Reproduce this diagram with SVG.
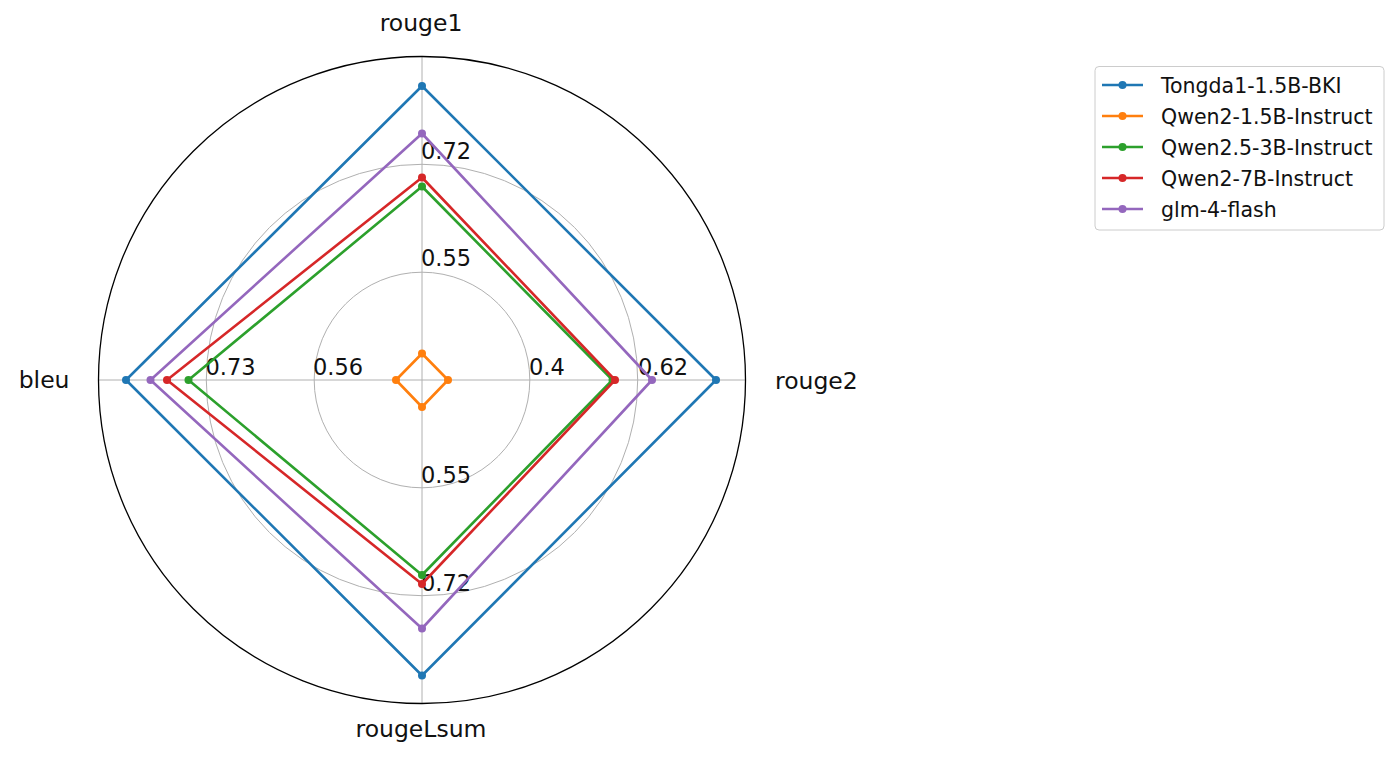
<svg xmlns="http://www.w3.org/2000/svg" width="1397" height="761" viewBox="0 0 1397 761">
<style>
text{font-family:"DejaVu Sans","Liberation Sans",sans-serif;fill:#111111}
.grid{fill:none;stroke:#b0b0b0;stroke-width:1}
.axl{font-size:23.5px}
.tick{font-size:22.5px}
.leg{font-size:20.5px}
.s{fill:none;stroke-width:2.6;stroke-linejoin:round}
</style>
<rect width="1397" height="761" fill="#ffffff"/>
<g id="grid">
<circle class="grid" cx="422" cy="380" r="107.8"/>
<circle class="grid" cx="422" cy="380" r="215.7"/>
<line class="grid" x1="422" y1="380" x2="422" y2="56.5"/>
<line class="grid" x1="422" y1="380" x2="745.5" y2="380"/>
<line class="grid" x1="422" y1="380" x2="422" y2="703.5"/>
<line class="grid" x1="422" y1="380" x2="98.5" y2="380"/>
<circle cx="422" cy="380" r="323.5" fill="none" stroke="#000000" stroke-width="1.3"/>
</g>
<g id="axis-labels">
<text class="axl" x="421" y="31" text-anchor="middle">rouge1</text>
<text class="axl" x="775" y="389">rouge2</text>
<text class="axl" x="421" y="737" text-anchor="middle">rougeLsum</text>
<text class="axl" x="69.5" y="388" text-anchor="end">bleu</text>
</g>
<g id="tick-labels">
<text class="tick" x="421" y="266">0.55</text>
<text class="tick" x="421" y="158.5">0.72</text>
<text class="tick" x="529" y="374.5">0.4</text>
<text class="tick" x="638" y="374.5">0.62</text>
<text class="tick" x="421" y="482.5">0.55</text>
<text class="tick" x="421" y="591">0.72</text>
<text class="tick" x="313" y="374.5">0.56</text>
<text class="tick" x="205.5" y="374.5">0.73</text>
</g>
<g id="series">
<g id="tongda" stroke="#1f77b4" fill="#1f77b4">
<path class="s" d="M422,86 L716,380 L422,675.5 L126,380 Z"/>
<circle cx="422" cy="86" r="4" stroke="none"/><circle cx="716" cy="380" r="4" stroke="none"/><circle cx="422" cy="675.5" r="4" stroke="none"/><circle cx="126" cy="380" r="4" stroke="none"/>
</g>
<g id="qwen2-1.5b" stroke="#ff7f0e" fill="#ff7f0e">
<path class="s" d="M422,353.5 L448,380 L422,407 L396,380 Z"/>
<circle cx="422" cy="353.5" r="4" stroke="none"/><circle cx="448" cy="380" r="4" stroke="none"/><circle cx="422" cy="407" r="4" stroke="none"/><circle cx="396" cy="380" r="4" stroke="none"/>
</g>
<g id="qwen2.5-3b" stroke="#2ca02c" fill="#2ca02c">
<path class="s" d="M422,186.5 L612.5,380 L422,575 L188.5,380 Z"/>
<circle cx="422" cy="186.5" r="4" stroke="none"/><circle cx="612.5" cy="380" r="4" stroke="none"/><circle cx="422" cy="575" r="4" stroke="none"/><circle cx="188.5" cy="380" r="4" stroke="none"/>
</g>
<g id="qwen2-7b" stroke="#d62728" fill="#d62728">
<path class="s" d="M422,177.5 L615,380 L422,584 L167,380 Z"/>
<circle cx="422" cy="177.5" r="4" stroke="none"/><circle cx="615" cy="380" r="4" stroke="none"/><circle cx="422" cy="584" r="4" stroke="none"/><circle cx="167" cy="380" r="4" stroke="none"/>
</g>
<g id="glm" stroke="#9467bd" fill="#9467bd">
<path class="s" d="M422,133.5 L652,380 L422,628.5 L150.5,380 Z"/>
<circle cx="422" cy="133.5" r="4" stroke="none"/><circle cx="652" cy="380" r="4" stroke="none"/><circle cx="422" cy="628.5" r="4" stroke="none"/><circle cx="150.5" cy="380" r="4" stroke="none"/>
</g>
</g>
<g id="legend">
<rect x="1095" y="66.5" width="289" height="163.5" rx="4" fill="#ffffff" fill-opacity="0.8" stroke="#cccccc" stroke-width="1"/>
<g stroke-width="2.6">
<line x1="1102" y1="85" x2="1143" y2="85" stroke="#1f77b4"/><circle cx="1122.5" cy="85" r="4" fill="#1f77b4"/>
<line x1="1102" y1="116" x2="1143" y2="116" stroke="#ff7f0e"/><circle cx="1122.5" cy="116" r="4" fill="#ff7f0e"/>
<line x1="1102" y1="147" x2="1143" y2="147" stroke="#2ca02c"/><circle cx="1122.5" cy="147" r="4" fill="#2ca02c"/>
<line x1="1102" y1="178" x2="1143" y2="178" stroke="#d62728"/><circle cx="1122.5" cy="178" r="4" fill="#d62728"/>
<line x1="1102" y1="209" x2="1143" y2="209" stroke="#9467bd"/><circle cx="1122.5" cy="209" r="4" fill="#9467bd"/>
</g>
<text class="leg" x="1161" y="92.5">Tongda1-1.5B-BKI</text>
<text class="leg" x="1161" y="123.5">Qwen2-1.5B-Instruct</text>
<text class="leg" x="1161" y="154.5">Qwen2.5-3B-Instruct</text>
<text class="leg" x="1161" y="185.5">Qwen2-7B-Instruct</text>
<text class="leg" x="1161" y="216.5">glm-4-flash</text>
</g>
</svg>
